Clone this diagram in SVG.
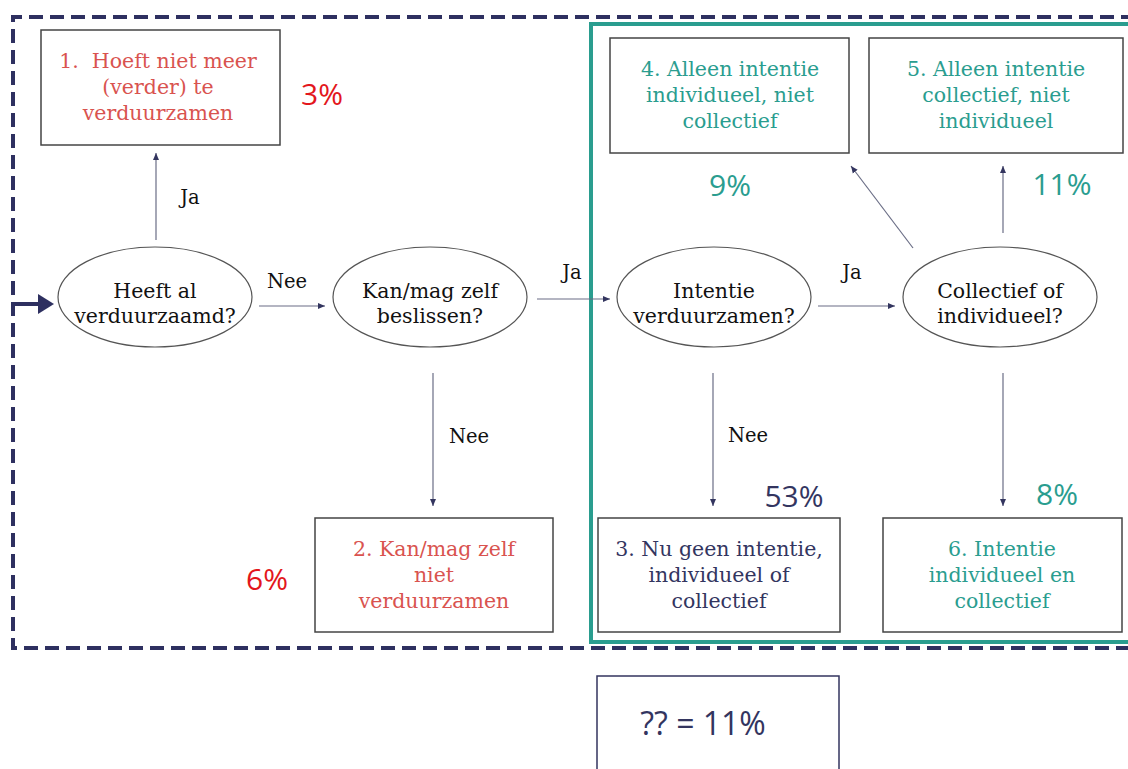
<svg xmlns="http://www.w3.org/2000/svg" width="1128" height="769" viewBox="0 0 1128 769">
<style>
.box{fill:#fff;stroke:#444;stroke-width:1.5}
.ell{fill:#fff;stroke:#555;stroke-width:1.2}
.t{font-family:"DejaVu Serif","Liberation Serif",serif;font-size:20.5px;text-anchor:middle}
.red{fill:#d9534f}
.teal{fill:#2a9d8f}
.navy{fill:#33355f}
.blk{fill:#111}
.pct{font-family:"Open Sans","Liberation Sans",sans-serif;font-size:30px;text-anchor:middle}
.con{stroke:#6a6d85;stroke-width:1.2;fill:none;marker-end:url(#ah)}
.lbl{font-family:"DejaVu Serif","Liberation Serif",serif;font-size:19.5px;fill:#111;text-anchor:middle}
</style>
<defs>
<marker id="ah" markerWidth="8" markerHeight="8" refX="7" refY="4" orient="auto" markerUnits="userSpaceOnUse">
<path d="M0,1 L7,4 L0,7 z" fill="#33355f"/>
</marker>
</defs>
<rect width="1128" height="769" fill="#fff"/>
<g id="outer-frame">
<path d="M1135,17 H13 V648 H1135" fill="none" stroke="#2e3060" stroke-width="4" stroke-dasharray="14,7"/>
</g>
<g id="teal-frame">
<rect x="591" y="24" width="545" height="618" fill="none" stroke="#2a9d8f" stroke-width="4"/>
</g>
<g id="connectors">
<path d="M13,304 H40" stroke="#2e3060" stroke-width="4"/>
<path d="M38,294 L54,304 L38,314 z" fill="#2e3060"/>
<line class="con" x1="156" y1="240" x2="156" y2="153"/>
<line class="con" x1="259" y1="306" x2="325" y2="306"/>
<line class="con" x1="537" y1="299" x2="610" y2="299"/>
<line class="con" x1="818" y1="306" x2="895" y2="306"/>
<line class="con" x1="433" y1="373" x2="433" y2="506"/>
<line class="con" x1="713" y1="373" x2="713" y2="506"/>
<line class="con" x1="1003" y1="373" x2="1003" y2="506"/>
<line class="con" x1="913" y1="248" x2="851" y2="166"/>
<line class="con" x1="1003" y1="233" x2="1003" y2="166"/>
<text class="lbl" x="190" y="204">Ja</text>
<text class="lbl" x="287" y="288">Nee</text>
<text class="lbl" x="572" y="279">Ja</text>
<text class="lbl" x="852" y="279">Ja</text>
<text class="lbl" x="469" y="443">Nee</text>
<text class="lbl" x="748" y="442">Nee</text>
</g>
<g id="n1">
<rect class="box" x="41" y="30" width="239" height="115"/>
<text class="t red" x="158" y="68">1.&#160; Hoeft niet meer</text>
<text class="t red" x="158" y="94">(verder) te</text>
<text class="t red" x="158" y="120">verduurzamen</text>
<text class="pct" x="322" y="105" fill="#e3161c">3%</text>
</g>
<g id="n4">
<rect class="box" x="610" y="38" width="239" height="115"/>
<text class="t teal" x="730" y="76">4. Alleen intentie</text>
<text class="t teal" x="730" y="102">individueel, niet</text>
<text class="t teal" x="730" y="128">collectief</text>
<text class="pct teal" x="730" y="196">9%</text>
</g>
<g id="n5">
<rect class="box" x="869" y="38" width="254" height="115"/>
<text class="t teal" x="996" y="76">5. Alleen intentie</text>
<text class="t teal" x="996" y="102">collectief, niet</text>
<text class="t teal" x="996" y="128">individueel</text>
<text class="pct teal" x="1062" y="195">11%</text>
</g>
<g id="q1">
<ellipse class="ell" cx="155" cy="297" rx="97" ry="50"/>
<text class="t blk" x="155" y="298">Heeft al</text>
<text class="t blk" x="155" y="323">verduurzaamd?</text>
</g>
<g id="q2">
<ellipse class="ell" cx="430" cy="297" rx="97" ry="50"/>
<text class="t blk" x="430" y="298">Kan/mag zelf</text>
<text class="t blk" x="430" y="323">beslissen?</text>
</g>
<g id="q3">
<ellipse class="ell" cx="714" cy="297" rx="97" ry="50"/>
<text class="t blk" x="714" y="298">Intentie</text>
<text class="t blk" x="714" y="323">verduurzamen?</text>
</g>
<g id="q4">
<ellipse class="ell" cx="1000" cy="297" rx="97" ry="50"/>
<text class="t blk" x="1000" y="298">Collectief of</text>
<text class="t blk" x="1000" y="323">individueel?</text>
</g>
<g id="n2">
<rect class="box" x="315" y="518" width="238" height="114"/>
<text class="t red" x="434" y="556">2. Kan/mag zelf</text>
<text class="t red" x="434" y="582">niet</text>
<text class="t red" x="434" y="608">verduurzamen</text>
<text class="pct" x="267" y="590" fill="#e3161c">6%</text>
</g>
<g id="n3">
<rect class="box" x="598" y="518" width="242" height="114"/>
<text class="t navy" x="719" y="556">3. Nu geen intentie,</text>
<text class="t navy" x="719" y="582">individueel of</text>
<text class="t navy" x="719" y="608">collectief</text>
<text class="pct navy" x="794" y="507">53%</text>
</g>
<g id="n6">
<rect class="box" x="883" y="518" width="239" height="114"/>
<text class="t teal" x="1002" y="556">6. Intentie</text>
<text class="t teal" x="1002" y="582">individueel en</text>
<text class="t teal" x="1002" y="608">collectief</text>
<text class="pct teal" x="1057" y="505">8%</text>
</g>
<g id="n7">
<rect x="597" y="676" width="242" height="100" fill="#fff" stroke="#33355f" stroke-width="1.5"/>
<text x="703" y="735" font-family="'Open Sans','Liberation Sans',sans-serif" font-size="32" fill="#33355f" text-anchor="middle">?? = 11%</text>
</g>
</svg>
